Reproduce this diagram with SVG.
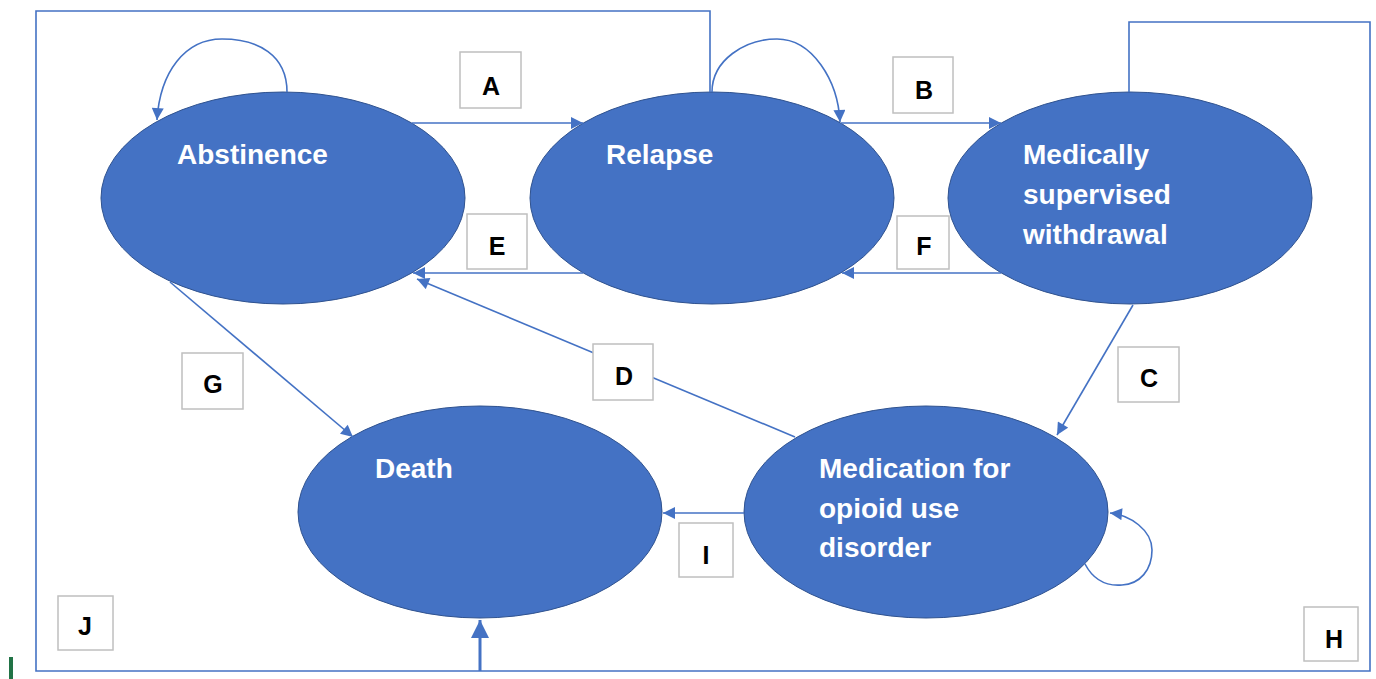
<svg xmlns="http://www.w3.org/2000/svg" width="1376" height="679" viewBox="0 0 1376 679">
<style>
.node{fill:#4472C4;stroke:#2F528F;stroke-width:1}
.nt{font-family:"Liberation Sans",Arial,sans-serif;font-weight:bold;font-size:28px;fill:#ffffff}
.lb{fill:#ffffff;stroke:#BFBFBF;stroke-width:1.5}
.lt{font-family:"Liberation Sans",Arial,sans-serif;font-weight:bold;font-size:25px;fill:#000000;text-anchor:middle}
.c{fill:none;stroke:#4472C4;stroke-width:1.6}
</style>
<defs>
<marker id="ah" viewBox="0 0 10 10" refX="10" refY="5" markerWidth="13" markerHeight="12" markerUnits="userSpaceOnUse" orient="auto">
<path d="M0,0 L10,5 L0,10 z" fill="#4472C4"/>
</marker>
<marker id="ahb" viewBox="0 0 10 10" refX="10" refY="5" markerWidth="18" markerHeight="18" markerUnits="userSpaceOnUse" orient="auto">
<path d="M0,0 L10,5 L0,10 z" fill="#4472C4"/>
</marker>
</defs>
<rect width="1376" height="679" fill="#ffffff"/>
<rect x="9" y="657" width="4" height="22" fill="#217346"/>
<g id="abstinence">
<ellipse class="node" cx="283" cy="198" rx="182" ry="106"/>
<text class="nt" x="177" y="164">Abstinence</text>
</g>
<g id="relapse">
<ellipse class="node" cx="712" cy="198" rx="182" ry="106"/>
<text class="nt" x="606" y="164">Relapse</text>
</g>
<g id="withdrawal">
<ellipse class="node" cx="1130" cy="198" rx="182" ry="106"/>
<text class="nt" x="1023" y="164">Medically</text>
<text class="nt" x="1023" y="204">supervised</text>
<text class="nt" x="1023" y="244">withdrawal</text>
</g>
<g id="death">
<ellipse class="node" cx="480" cy="512" rx="182" ry="106"/>
<text class="nt" x="375" y="478">Death</text>
</g>
<g id="moud">
<ellipse class="node" cx="926" cy="512" rx="182" ry="106"/>
<text class="nt" x="819" y="478">Medication for</text>
<text class="nt" x="819" y="518">opioid use</text>
<text class="nt" x="819" y="557">disorder</text>
</g>
<g id="connectors">
<path class="c" d="M287,92 C287,55 258,39 222,39 C185,39 160,72 157,120" marker-end="url(#ah)"/>
<path class="c" d="M712,92 C712,60 745,39 777,39 C812,39 838,80 840,122" marker-end="url(#ah)"/>
<path class="c" d="M1085,564 C1095,583 1110,586 1122,585 C1140,584 1152,570 1152,550 C1152,530 1130,515 1110,513" marker-end="url(#ah)"/>
<path class="c" d="M412,123 H583" marker-end="url(#ah)"/>
<path class="c" d="M841,123 H1001" marker-end="url(#ah)"/>
<path class="c" d="M583,273 H413" marker-end="url(#ah)"/>
<path class="c" d="M1001,273 H842" marker-end="url(#ah)"/>
<path class="c" d="M795,437 L417,279" marker-end="url(#ah)"/>
<path class="c" d="M170,282 L353,437" marker-end="url(#ah)"/>
<path class="c" d="M1133,305 L1057,435" marker-end="url(#ah)"/>
<path class="c" d="M744,513 H663" marker-end="url(#ah)"/>
<path class="c" d="M710,92 V11 H36 V671 H1370 V22 H1129 V92"/>
<path class="c" style="stroke-width:3" d="M480,671 V620" marker-end="url(#ahb)"/>
</g>
<g id="labels">
<rect class="lb" x="460" y="52" width="61" height="56"/><text class="lt" x="491" y="95">A</text>
<rect class="lb" x="893" y="57" width="60" height="56"/><text class="lt" x="924" y="99">B</text>
<rect class="lb" x="1118" y="347" width="61" height="55"/><text class="lt" x="1149" y="387">C</text>
<rect class="lb" x="593" y="344" width="60" height="56"/><text class="lt" x="624" y="385">D</text>
<rect class="lb" x="467" y="214" width="60" height="55"/><text class="lt" x="497" y="255">E</text>
<rect class="lb" x="897" y="216" width="52" height="53"/><text class="lt" x="924" y="255">F</text>
<rect class="lb" x="182" y="353" width="61" height="56"/><text class="lt" x="213" y="393">G</text>
<rect class="lb" x="1304" y="607" width="54" height="54"/><text class="lt" x="1334" y="648">H</text>
<rect class="lb" x="679" y="523" width="54" height="54"/><text class="lt" x="706" y="564">I</text>
<rect class="lb" x="58" y="596" width="55" height="54"/><text class="lt" x="85" y="635">J</text>
</g>
</svg>
